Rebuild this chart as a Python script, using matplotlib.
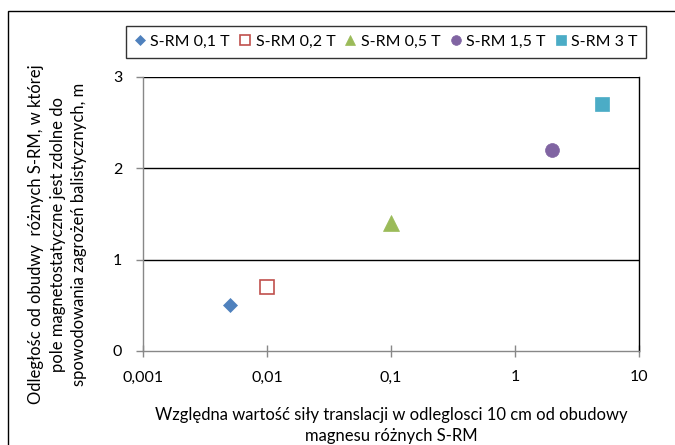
import matplotlib
matplotlib.use("Agg")
import matplotlib.pyplot as plt
from matplotlib.patches import Rectangle

plt.rcParams['font.family'] = ['Lato', 'DejaVu Sans']

labels = ["S-RM 0,1 T", "S-RM 0,2 T", "S-RM 0,5 T", "S-RM 1,5 T", "S-RM 3 T"]
x_vals = [0.005, 0.01, 0.1, 2.0, 5.0]
y_vals = [0.5, 0.7, 1.4, 2.2, 2.7]
markers = ["D", "s", "^", "o", "s"]
faces = ["#4F81BD", "white", "#9BBB59", "#8064A2", "#4BACC6"]
edges = ["#4F81BD", "#C0504D", "#9BBB59", "#8064A2", "#4BACC6"]
sizes = [7.5, 9.5, 11, 10, 10]
x_ticks = [0.001, 0.01, 0.1, 1, 10]
x_ticklabels = ["0,001", "0,01", "0,1", "1", "10"]
y_ticks = [0, 1, 2, 3]

W, H = 675, 445
fig = plt.figure(figsize=(W / 100, H / 100), dpi=100)
ax = fig.add_axes([143 / W, 1 - 351 / H, (639 - 143) / W, (351 - 77) / H])

fig.patches.append(Rectangle((8 / W, 0 - 0.05), 1.2, 1 - 11 / H + 0.05,
                             transform=fig.transFigure, fill=False,
                             edgecolor="black", linewidth=1.0))

for xv, yv, m, fc, ec, s, lab in zip(x_vals, y_vals, markers, faces, edges, sizes, labels):
    ax.plot([xv], [yv], linestyle="none", marker=m, markersize=s,
            markerfacecolor=fc, markeredgecolor=ec,
            markeredgewidth=1.2 if fc == "white" else 0.5, label=lab)

ax.set_xscale("log")
ax.set_xlim(0.001, 10)
ax.set_ylim(0, 3)
ax.set_xticks(x_ticks)
ax.set_xticklabels(x_ticklabels)
ax.minorticks_off()
ax.set_yticks(y_ticks)
ax.tick_params(axis="both", labelsize=11.5, colors="#888888", labelcolor="black",
               length=5, width=1)
ax.tick_params(axis="x", direction="inout", length=8, pad=10)
ax.tick_params(axis="y", pad=10)

for yv in [1, 2, 3]:
    ax.axhline(yv, color="black", linewidth=1.0, zorder=1)

ax.spines["top"].set_visible(False)
ax.spines["right"].set_color("black")
ax.spines["left"].set_color("#888888")
ax.spines["bottom"].set_color("#888888")
for sp in ax.spines.values():
    sp.set_linewidth(1.0)

ax.set_xlabel("Względna wartość siły translacji w odleglosci 10 cm od obudowy\nmagnesu różnych S-RM",
              fontsize=12, linespacing=1.4)
ax.xaxis.set_label_coords(0.5, -0.205)
ax.set_ylabel("Odległośc od obudwy  różnych S-RM, w której\npole magnetostatyczne jest zdolne do\nspowodowania zagrożeń balistycznych, m",
              fontsize=12, linespacing=1.45)
ax.yaxis.set_label_coords(-0.112, 0.427)

leg = fig.legend(loc="center", bbox_to_anchor=(386 / W, 1 - 42 / H), ncol=5,
                 frameon=True, fancybox=False, edgecolor="black", fontsize=11.5,
                 handlelength=0.7, handletextpad=0.3, columnspacing=0.6,
                 borderpad=0.55, markerscale=0.7)
leg.get_frame().set_linewidth(1.0)

fig.savefig("out.png", dpi=100)
